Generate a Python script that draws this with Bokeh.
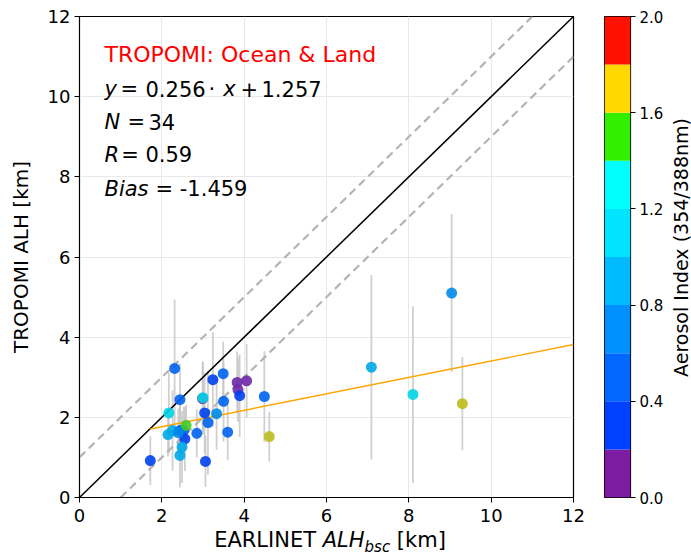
import numpy as np
from bokeh.plotting import figure
from bokeh.models import ColumnDataSource, LinearColorMapper, Label, NumeralTickFormatter, Div
from bokeh.layouts import row, column
from bokeh.embed import file_html
from bokeh.resources import INLINE

# ---------------- data ----------------
earlinet_alh = [1.72, 2.15, 2.26, 2.17, 2.31, 2.44, 2.44, 2.53, 2.59, 2.56, 2.49, 2.44,
                2.85, 2.99, 3.00, 3.04, 3.06, 3.12, 3.33, 3.24, 3.49, 3.50, 3.60, 3.83,
                4.06, 3.85, 3.89, 4.49, 4.61, 7.09, 8.10, 9.04, 9.30, 2.40]
tropomi_alh = [0.92, 1.57, 1.67, 2.11, 3.22, 2.44, 1.67, 1.67, 1.80, 1.46, 1.26, 1.05,
               1.60, 2.47, 2.49, 2.11, 0.90, 1.87, 2.09, 2.94, 3.09, 2.40, 1.63, 2.87,
               2.91, 2.69, 2.54, 2.52, 1.52, 3.25, 2.57, 5.10, 2.34, 1.62]
tropomi_err = [0.61, 0.55, 1.00, 1.00, 1.72, 0.90, 0.70, 0.60, 0.50, 0.80, 0.90, 0.80,
               0.60, 0.90, 0.90, 1.00, 0.64, 1.30, 0.90, 1.18, 0.80, 1.00, 0.70, 0.77,
               0.92, 0.80, 1.03, 1.13, 0.62, 2.30, 2.20, 1.97, 1.16, 0.60]
aerosol_index = [0.3, 0.9, 0.9, 1.3, 0.5, 0.5, 0.5, 0.5, 1.5, 0.3, 0.9, 0.9,
                 0.5, 0.1, 1.3, 0.3, 0.3, 0.5, 0.7, 0.3, 0.5, 0.5, 0.5, 0.1,
                 0.1, 0.1, 0.3, 0.5, 1.7, 0.9, 1.3, 0.7, 1.7, 0.7]

ai_edges = [0.0, 0.2, 0.4, 0.6, 0.8, 1.0, 1.2, 1.4, 1.6, 1.8, 2.0]
ai_ticks = [0.0, 0.4, 0.8, 1.2, 1.6, 2.0]
cbar_palette = ["#7b1ca2", "#0040ff", "#0068ff", "#0090ff", "#00bcff",
                "#00e4ff", "#00ffff", "#33ee00", "#ffd800", "#ff1100"]
point_palette = ["#6e28a8", "#0040ee", "#0064ee", "#008ae8", "#00a8e8",
                 "#00d0e4", "#00d4e4", "#44cc22", "#bdbd1e", "#ee1100"]
axis_ticks = [0, 2, 4, 6, 8, 10, 12]
ref_offsets = [1, -1]
fit_slope = 0.205
fit_intercept = 1.356

FONT = "DejaVu Sans"

# ---------------- main scatter ----------------
x = np.array(earlinet_alh)
y = np.array(tropomi_alh)
e = np.array(tropomi_err)
src = ColumnDataSource(dict(x=x, y=y, lo=y - e, hi=y + e, ai=aerosol_index))

p = figure(width=604, height=539, x_range=(0, 12), y_range=(0, 12),
           min_border_left=79, min_border_right=31, min_border_top=16, min_border_bottom=42,
           title=None, output_backend="svg", toolbar_location=None)
p.background_fill_color = "white"
p.border_fill_color = "white"
p.outline_line_color = "black"
p.outline_line_width = 1.2
p.outline_line_alpha = 1

for ax in (p.xaxis, p.yaxis):
    ax.ticker = axis_ticks
    ax.major_tick_out = 5
    ax.major_tick_in = 0
    ax.minor_tick_line_color = None
    ax.minor_tick_out = 0
    ax.axis_line_color = "black"
    ax.major_tick_line_color = "black"
    ax.major_label_text_font = FONT
    ax.major_label_text_font_size = "18px"
    ax.major_label_text_color = "black"
    ax.major_label_standoff = 4
p.xaxis.major_label_standoff = 6
p.grid.grid_line_color = "#e8e8e8"
p.grid.grid_line_width = 1

p.yaxis.axis_label = "TROPOMI ALH [km]"
p.yaxis.axis_label_text_font = FONT
p.yaxis.axis_label_text_font_size = "20px"
p.yaxis.axis_label_text_font_style = "normal"
p.yaxis.axis_label_text_color = "black"
p.yaxis.axis_label_standoff = 12

# error bars
p.segment(x0="x", y0="lo", x1="x", y1="hi", source=src, line_color="#c4c4c4",
          line_width=1.8, line_alpha=0.8)

# 1:1 and +/-1 km reference lines
p.line([0, 12], [0, 12], line_color="black", line_width=1.5)
for off in ref_offsets:
    xs = np.array([max(0, -off), min(12, 12 - off)])
    p.line(xs, xs + off, line_color="#b4b4b4", line_width=2.2, line_dash="8 5")

# fit line
fx = np.array([x.min(), 12])
p.line(fx, fit_slope * fx + fit_intercept, line_color="#ffa500", line_width=1.4)

mapper_pts = LinearColorMapper(palette=point_palette, low=0, high=2)
p.scatter("x", "y", source=src, size=11,
          fill_color={"field": "ai", "transform": mapper_pts},
          line_color=None, fill_alpha=0.9)

# ---------------- annotation text ----------------
def add_pieces(fig, pieces, ydata, size="21px", color="black", xdata=0, base_px=25):
    for txt, off, italic in pieces:
        fig.add_layout(Label(x=xdata, y=ydata, x_offset=base_px + off, text=txt,
                             text_font=FONT, text_font_size=size, text_color=color,
                             text_font_style="italic" if italic else "normal",
                             text_baseline="alphabetic", text_align="left"))

add_pieces(p, [("TROPOMI: Ocean & Land", 0, False)], 11.045, size="22px", color="red")
add_pieces(p, [("y", 0, True), ("=", 16, False), ("0.256", 41, False), ("·", 104, False),
               ("x", 118.7, True), ("+", 136, False), ("1.257", 157, False)], 10.197)
add_pieces(p, [("N", 0, True), ("=", 23, False), ("34", 44, False)], 9.364)
add_pieces(p, [("R", 0, True), ("= 0.59", 16.7, False)], 8.533)
add_pieces(p, [("Bias", 0, True), ("= -1.459", 51, False)], 7.70)

# ---------------- x-axis label (with subscript) ----------------
xlab_html = ('<div style="position:relative; top:-9px; width:691px; box-sizing:border-box; '
             'padding-right:31px; text-align:center; white-space:nowrap; color:black; '
             'font-family:\'DejaVu Sans\'; font-size:21px; line-height:21px;">'
             'EARLINET <i>ALH<sub style="font-size:15px; line-height:0;">bsc</sub></i> [km]</div>')
xlab = Div(text=xlab_html, width=691, height=20, margin=0,
           styles={"overflow": "visible"})

# ---------------- colour bar ----------------
cb = figure(width=64, height=539, x_range=(0, 1), y_range=(0, 2),
            min_border_left=0, min_border_right=38, min_border_top=16, min_border_bottom=42,
            x_axis_location=None, y_axis_location="right", title=None,
            output_backend="svg", toolbar_location=None)
cb.border_fill_color = "white"
cb.grid.visible = False
cb.outline_line_color = "black"
cb.outline_line_width = 1.2
cb.quad(left=0, right=1, bottom=ai_edges[:-1], top=ai_edges[1:],
        fill_color=cbar_palette, line_color=None)
cb.yaxis.ticker = ai_ticks
cb.yaxis.formatter = NumeralTickFormatter(format="0.0")
cb.yaxis.major_tick_out = 5
cb.yaxis.major_tick_in = 0
cb.yaxis.minor_tick_line_color = None
cb.yaxis.minor_tick_out = 0
cb.yaxis.axis_line_color = None
cb.yaxis.major_label_text_font = FONT
cb.yaxis.major_label_text_font_size = "15px"
cb.yaxis.major_label_text_color = "black"
cb.yaxis.major_label_standoff = 4

clab = figure(width=23, height=539, x_range=(0, 23), y_range=(0, 481),
              min_border_left=0, min_border_right=0, min_border_top=16, min_border_bottom=42,
              x_axis_location=None, y_axis_location=None, title=None,
              output_backend="svg", toolbar_location=None)
clab.grid.visible = False
clab.outline_line_color = None
clab.border_fill_color = "white"
clab.add_layout(Label(x=12, y=250, text="Aerosol Index (354/388nm)",
                      angle=np.pi / 2, text_font=FONT, text_font_size="19px",
                      text_color="black", text_align="center", text_baseline="middle"))

layout = column(row(p, cb, clab), xlab)
open("out.html", "w").write(file_html(layout, INLINE))
